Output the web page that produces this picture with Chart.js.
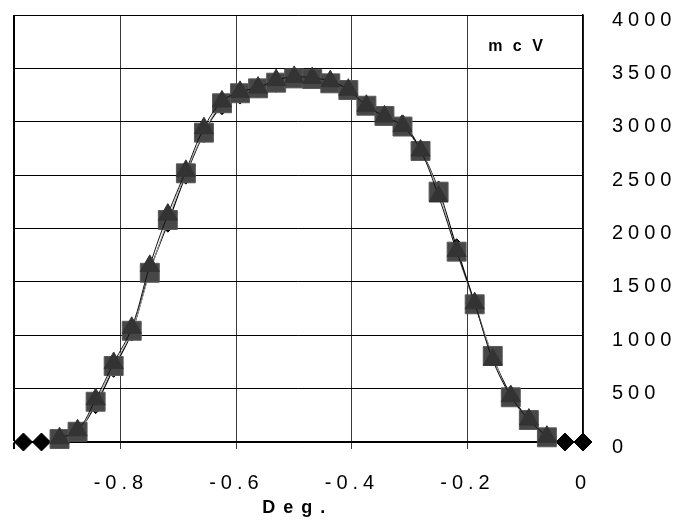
<!DOCTYPE html>
<html><head><meta charset="utf-8">
<script src="https://cdn.jsdelivr.net/npm/chart.js@4/dist/chart.umd.min.js"></script>
<style>html,body{margin:0;padding:0;background:#fff}#wrap{width:691px;height:523px}</style>
</head><body><div id="wrap"><canvas id="c"></canvas></div>
<script>
// ---- data ----
const degrees = [-0.96875,-0.9375,-0.90625,-0.875,-0.84375,-0.8125,-0.78125,-0.75,-0.71875,-0.6875,-0.65625,-0.625,-0.59375,-0.5625,-0.53125,-0.5,-0.46875,-0.4375,-0.40625,-0.375,-0.34375,-0.3125,-0.28125,-0.25,-0.21875,-0.1875,-0.15625,-0.125,-0.09375,-0.0625,-0.03125,0];
const diamondSeries  = [0,0,30,100,350,690,1030,1600,2050,2500,2890,3150,3250,3310,3360,3410,3400,3380,3300,3160,3060,2980,2740,2360,1820,1300,800,440,210,50,0,0];
const triangleSeries = [null,null,35,110,400,740,1070,1650,2130,2540,2940,3190,3280,3320,3390,3420,3410,3380,3300,3150,3050,2960,2730,2300,1790,1300,770,430,210,50,null,null];
const squareSeries   = [null,null,28,96,377,712,1042,1585,2080,2517,2898,3173,3267,3313,3366,3406,3400,3360,3297,3150,3054,2955,2726,2345,1783,1290,806,419,206,44,null,null];
const xTickValues = [-0.8,-0.6,-0.4,-0.2,0];
const yTickValues = [0,500,1000,1500,2000,2500,3000,3500,4000];
const xMin = -0.984375, xMax = 0, yMin = 0, yMax = 4000;
const xAxisTitle = 'Deg.';
const unitLabel = 'm c V';

const FONT = 'Arial, "Liberation Sans", sans-serif';
const pts = arr => degrees.map((x,i)=>({x, y: arr[i]}));
const noPad = s => { s.paddingTop = 0; s.paddingBottom = 0; s.paddingLeft = 0; s.paddingRight = 0; };

const textPlugin = {
  id: 'texts',
  beforeDraw(chart){ chart.ctx.letterSpacing = '5px'; },
  afterDraw(chart){
    const ctx = chart.ctx, a = chart.chartArea;
    ctx.save();
    ctx.fillStyle = '#000';
    ctx.textAlign = 'center';
    ctx.textBaseline = 'middle';
    ctx.letterSpacing = '8px';
    ctx.font = 'bold 18px ' + FONT;
    ctx.fillText(xAxisTitle, (a.left + a.right)/2 - 1, a.bottom + 66);
    ctx.letterSpacing = '3px';
    ctx.font = 'bold 16px ' + FONT;
    ctx.fillText(unitLabel, a.right - 66, a.top + 32);
    ctx.restore();
    ctx.letterSpacing = '0px';
  }
};

new Chart(document.getElementById('c'), {
  type: 'scatter',
  data: {
    datasets: [
      { label: 'triangles', data: pts(triangleSeries), showLine: true, tension: 0.4, clip: false,
        borderColor: '#111', borderWidth: 1, pointStyle: 'triangle', pointRadius: 11,
        pointBackgroundColor: '#333333', pointBorderColor: '#333333', pointBorderWidth: 1 },
      { label: 'squares', data: pts(squareSeries), showLine: true, tension: 0.4, clip: false,
        borderColor: '#aaaaaa', borderWidth: 1, pointStyle: 'rect', pointRadius: 13.4,
        pointBackgroundColor: '#474747', pointBorderColor: '#5a5a5a', pointBorderWidth: 1 },
      { label: 'diamonds', data: pts(diamondSeries), showLine: true, tension: 0.4, clip: false,
        borderColor: '#000', borderWidth: 1.2, pointStyle: 'rectRot', pointRadius: 9,
        pointBackgroundColor: '#000', pointBorderColor: '#000', pointBorderWidth: 1 }
    ]
  },
  options: {
    responsive: true, maintainAspectRatio: false, animation: false, devicePixelRatio: 1,
    layout: { padding: { left: 12, top: 15, right: 0, bottom: 0 } },
    plugins: { legend: { display: false }, tooltip: { enabled: false } },
    scales: {
      x: {
        type: 'linear', position: 'bottom', min: xMin, max: xMax,
        afterBuildTicks: s => { s.ticks = [xMin, ...xTickValues].map(v => ({ value: v })); },
        afterFit: s => { s.height = 81; noPad(s); },
        ticks: { padding: 22, color: '#000', font: { family: FONT, size: 20 },
          callback: v => (v === xMin ? '' : String(v)), maxRotation: 0, autoSkip: false },
        grid: { color: c => (c.tick && c.tick.value === xMin ? '#000' : '#3a3a3a'),
          lineWidth: c => (c.tick && c.tick.value === xMin ? 2 : 1),
          tickLength: 7, drawTicks: true },
        border: { display: true, color: '#000', width: 1.5 }
      },
      y: {
        type: 'linear', position: 'right', min: yMin, max: yMax,
        afterBuildTicks: s => { s.ticks = yTickValues.map(v => ({ value: v })); },
        afterFit: s => { s.width = 108; noPad(s); },
        ticks: { padding: 29, labelOffset: 5, color: '#000', font: { family: FONT, size: 20 },
          callback: v => String(v), autoSkip: false },
        grid: { color: '#000', lineWidth: 1, drawTicks: false },
        border: { display: true, color: '#000', width: 1.5 }
      }
    }
  },
  plugins: [textPlugin]
});
</script>
</body></html>
